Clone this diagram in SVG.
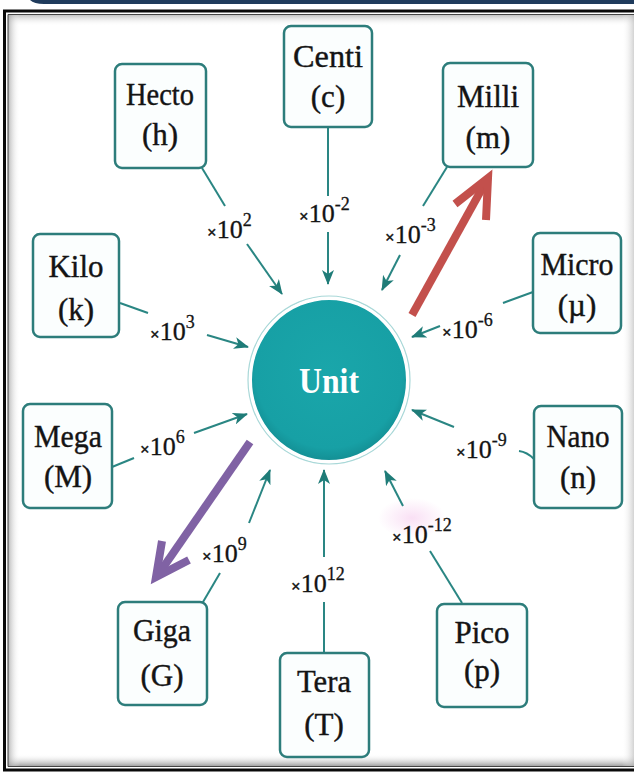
<svg xmlns="http://www.w3.org/2000/svg" width="634" height="772" viewBox="0 0 634 772">
  <style>
    .box { fill: #fbfefe; stroke: #2d7d7b; stroke-width: 2.5; }
    .name { font-family: "Liberation Serif", "Times New Roman", serif; font-size: 32px; fill: #141414; stroke: #141414; stroke-width: 0.4; text-anchor: middle; }
    .sym { font-family: "Liberation Serif", "Times New Roman", serif; font-size: 31px; fill: #141414; stroke: #141414; stroke-width: 0.4; text-anchor: middle; }
    .factor { font-family: "Liberation Serif", "Times New Roman", serif; font-size: 26px; fill: #141414; stroke: #141414; stroke-width: 0.3; }
    .times { font-size: 17px; font-weight: bold; }
    .exp { font-size: 18px; }
    .link { stroke: #2a8683; stroke-width: 2; fill: none; }
    .to-unit { marker-end: url(#tip); }
  </style>
  <defs>
    <marker id="tip" markerUnits="userSpaceOnUse" markerWidth="16" markerHeight="12" refX="14" refY="6" orient="auto">
      <path d="M0,0 L15,6 L0,12 L4,6 Z" fill="#1f7c78"/>
    </marker>
    <radialGradient id="unitFill" cx="0.5" cy="0.45" r="0.55">
      <stop offset="0" stop-color="#1aa6aa"/>
      <stop offset="0.85" stop-color="#17a0a5"/>
      <stop offset="1" stop-color="#138e93"/>
    </radialGradient>
    <linearGradient id="shadeTop" x1="0" y1="0" x2="0" y2="1">
      <stop offset="0" stop-color="#9a9a9a" stop-opacity="0.7"/>
      <stop offset="1" stop-color="#ffffff" stop-opacity="0"/>
    </linearGradient>
    <linearGradient id="shadeBottom" x1="0" y1="1" x2="0" y2="0">
      <stop offset="0" stop-color="#8a8a8a" stop-opacity="0.8"/>
      <stop offset="1" stop-color="#ffffff" stop-opacity="0"/>
    </linearGradient>
    <linearGradient id="shadeLeft" x1="0" y1="0" x2="1" y2="0">
      <stop offset="0" stop-color="#9a9a9a" stop-opacity="0.7"/>
      <stop offset="1" stop-color="#ffffff" stop-opacity="0"/>
    </linearGradient>
    <linearGradient id="shadeRight" x1="1" y1="0" x2="0" y2="0">
      <stop offset="0" stop-color="#b5b5b5" stop-opacity="0.6"/>
      <stop offset="1" stop-color="#ffffff" stop-opacity="0"/>
    </linearGradient>
    <radialGradient id="pinkGlow" cx="0.5" cy="0.5" r="0.5">
      <stop offset="0" stop-color="#f4c6ec" stop-opacity="0.55"/>
      <stop offset="1" stop-color="#f4c6ec" stop-opacity="0"/>
    </radialGradient>
  </defs>

  <!-- page background and frame -->
  <rect x="0" y="0" width="634" height="772" fill="#ffffff"/>
  <path d="M40,0 H634 V4 H44 Q34,4 30,0 Z" fill="#1f3b5c"/>
  <rect x="8" y="14" width="626" height="12" fill="url(#shadeTop)"/>
  <rect x="8" y="754" width="626" height="12" fill="url(#shadeBottom)"/>
  <rect x="8" y="14" width="12" height="752" fill="url(#shadeLeft)"/>
  <rect x="622" y="14" width="12" height="752" fill="url(#shadeRight)"/>
  <path d="M634,11 H4.5 V770 H634" fill="none" stroke="#0a0a0a" stroke-width="3"/>
  <path d="M634,14.5 H8 V766.5 H634" fill="none" stroke="#444" stroke-width="1"/>
  <ellipse cx="412" cy="518" rx="34" ry="20" fill="url(#pinkGlow)"/>

  <!-- connectors: prefix node -> factor label -> unit -->
  <g id="connectors">
    <path class="link" d="M202,168 L225,206"/>
    <path class="link to-unit" d="M247,244 L282,294"/>

    <path class="link" d="M328,127 L328,196"/>
    <path class="link to-unit" d="M328,232 L328,284"/>

    <path class="link" d="M447,167 L423,206"/>
    <path class="link to-unit" d="M400,255 L382,290"/>

    <path class="link" d="M120,303 L148,313"/>
    <path class="link to-unit" d="M207,335 L248,347"/>

    <path class="link" d="M533,292 L503,303"/>
    <path class="link to-unit" d="M440,326 L412,337"/>

    <path class="link" d="M112,467 L134,458"/>
    <path class="link to-unit" d="M194,433 L247,414"/>

    <path class="link" d="M534,459 Q527,452 519,451"/>
    <path class="link to-unit" d="M454,427 L412,410"/>

    <path class="link" d="M462,603 L430,551"/>
    <path class="link to-unit" d="M403,506 L385,471"/>

    <path class="link" d="M203,602 L220,573"/>
    <path class="link to-unit" d="M249,523 L270,470"/>

    <path class="link" d="M324,653 L324,602"/>
    <path class="link to-unit" d="M324,557 L324,470"/>
  </g>

  <!-- factor labels -->
  <g id="factors" class="factor">
    <text x="207" y="238"><tspan class="times">×</tspan>10<tspan class="exp" dy="-12">2</tspan></text>
    <text x="299" y="222"><tspan class="times">×</tspan>10<tspan class="exp" dy="-12">-2</tspan></text>
    <text x="385" y="243"><tspan class="times">×</tspan>10<tspan class="exp" dy="-12">-3</tspan></text>
    <text x="150" y="340"><tspan class="times">×</tspan>10<tspan class="exp" dy="-12">3</tspan></text>
    <text x="442" y="338"><tspan class="times">×</tspan>10<tspan class="exp" dy="-12">-6</tspan></text>
    <text x="140" y="455"><tspan class="times">×</tspan>10<tspan class="exp" dy="-12">6</tspan></text>
    <text x="456" y="458"><tspan class="times">×</tspan>10<tspan class="exp" dy="-12">-9</tspan></text>
    <text x="392" y="543"><tspan class="times">×</tspan>10<tspan class="exp" dy="-12">-12</tspan></text>
    <text x="202" y="562"><tspan class="times">×</tspan>10<tspan class="exp" dy="-12">9</tspan></text>
    <text x="291" y="592"><tspan class="times">×</tspan>10<tspan class="exp" dy="-12">12</tspan></text>
  </g>

  <!-- central unit -->
  <g id="unit">
    <ellipse cx="329" cy="380" rx="81" ry="84" fill="none" stroke="#a9d8d8" stroke-width="1.2"/>
    <ellipse cx="329" cy="380" rx="78.5" ry="81.5" fill="url(#unitFill)" stroke="#ffffff" stroke-width="3"/>
    <text x="329" y="393" font-family="'Liberation Serif', 'Times New Roman', serif" font-size="35" font-weight="bold" fill="#ffffff" text-anchor="middle" textLength="60" lengthAdjust="spacingAndGlyphs">Unit</text>
  </g>

  <!-- prefix nodes -->
  <g id="centi">
    <rect class="box" x="284" y="26" width="88" height="101" rx="7"/>
    <text class="name" x="328" y="67" textLength="70" lengthAdjust="spacingAndGlyphs">Centi</text>
    <text class="sym" x="328" y="107">(c)</text>
  </g>
  <g id="hecto">
    <rect class="box" x="115" y="64" width="91" height="104" rx="7"/>
    <text class="name" x="160" y="105" textLength="68" lengthAdjust="spacingAndGlyphs">Hecto</text>
    <text class="sym" x="160" y="145">(h)</text>
  </g>
  <g id="milli">
    <rect class="box" x="443" y="63" width="90" height="104" rx="7"/>
    <text class="name" x="488" y="107" textLength="62" lengthAdjust="spacingAndGlyphs">Milli</text>
    <text class="sym" x="488" y="148">(m)</text>
  </g>
  <g id="micro">
    <rect class="box" x="533" y="233" width="88" height="100" rx="7"/>
    <text class="name" x="577" y="275" textLength="73" lengthAdjust="spacingAndGlyphs">Micro</text>
    <text class="sym" x="577" y="316">(µ)</text>
  </g>
  <g id="kilo">
    <rect class="box" x="33" y="234" width="86" height="103" rx="7"/>
    <text class="name" x="76" y="277" textLength="55" lengthAdjust="spacingAndGlyphs">Kilo</text>
    <text class="sym" x="76" y="320">(k)</text>
  </g>
  <g id="mega">
    <rect class="box" x="23" y="404" width="89" height="104" rx="7"/>
    <text class="name" x="68" y="447" textLength="68" lengthAdjust="spacingAndGlyphs">Mega</text>
    <text class="sym" x="68" y="487">(M)</text>
  </g>
  <g id="nano">
    <rect class="box" x="534" y="406" width="88" height="102" rx="7"/>
    <text class="name" x="578" y="447" textLength="63" lengthAdjust="spacingAndGlyphs">Nano</text>
    <text class="sym" x="578" y="488">(n)</text>
  </g>
  <g id="pico">
    <rect class="box" x="437" y="604" width="90" height="103" rx="7"/>
    <text class="name" x="482" y="643" textLength="55" lengthAdjust="spacingAndGlyphs">Pico</text>
    <text class="sym" x="482" y="681">(p)</text>
  </g>
  <g id="giga">
    <rect class="box" x="118" y="602" width="89" height="103" rx="7"/>
    <text class="name" x="162" y="641" textLength="58" lengthAdjust="spacingAndGlyphs">Giga</text>
    <text class="sym" x="162" y="686">(G)</text>
  </g>
  <g id="tera">
    <rect class="box" x="280" y="653" width="89" height="104" rx="7"/>
    <text class="name" x="324" y="692" textLength="54" lengthAdjust="spacingAndGlyphs">Tera</text>
    <text class="sym" x="324" y="735">(T)</text>
  </g>

  <!-- highlight arrows -->
  <g id="highlight-arrows" fill="none" stroke-width="8" stroke-linejoin="miter">
    <g id="to-milli" stroke="#c3504c">
      <path d="M412,315 L484,185"/>
      <path d="M455,204 L488,178 L486,220"/>
    </g>
    <g id="to-giga" stroke="#8062a4">
      <path d="M250,442 L160,572"/>
      <path d="M162,541 L156,577 L189,560"/>
    </g>
  </g>
</svg>
